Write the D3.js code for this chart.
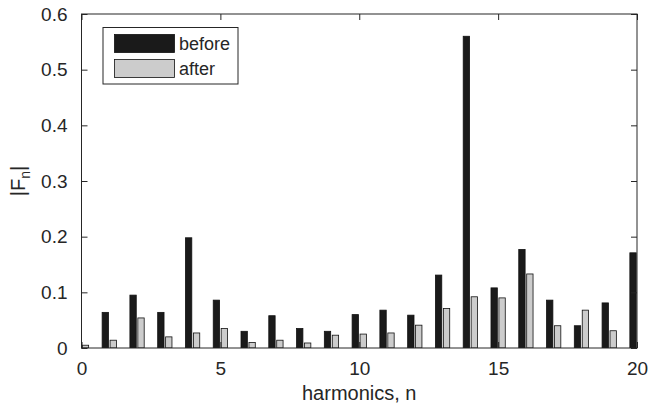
<!DOCTYPE html>
<html>
<head>
<meta charset="utf-8">
<script src="https://cdn.jsdelivr.net/npm/d3@7"></script>
<style>
  body { margin: 0; background: #fff; }
  svg { font-family: "Liberation Sans", Arial, sans-serif; }
</style>
</head>
<body>
<svg id="chart" width="649" height="409"></svg>
<script>
// harmonic numbers and |F_n| values
var harmonics = [0, 1, 2, 3, 4, 5, 6, 7, 8, 9, 10, 11, 12, 13, 14, 15, 16, 17, 18, 19, 20];
var before = [0.005, 0.064, 0.095, 0.064, 0.198, 0.086, 0.030, 0.058, 0.035, 0.030, 0.060, 0.068, 0.059, 0.131, 0.560, 0.108, 0.177, 0.086, 0.040, 0.081, 0.171];
var after  = [0.005, 0.014, 0.054, 0.020, 0.027, 0.035, 0.010, 0.014, 0.009, 0.023, 0.025, 0.027, 0.041, 0.071, 0.092, 0.090, 0.133, 0.040, 0.068, 0.031, 0.030];
var seriesNames = ["before", "after"];
var xTicks = [0, 5, 10, 15, 20];
var yTicks = [0, 0.1, 0.2, 0.3, 0.4, 0.5, 0.6];

var margin = {left: 81.5, top: 14, right: 12, bottom: 61};
var W = 649, H = 409;
var svg = d3.select('#chart');
var axisColor = '#262626';

var x = d3.scaleLinear().domain([0, 20]).range([margin.left, W - margin.right]);
var y = d3.scaleLinear().domain([0, 0.6]).range([H - margin.bottom, margin.top]);

// matlab grouped bar layout: 2 bars per group
var groupWidth = Math.min(0.8, 2 / 3.5);
var barW = groupWidth / 2 * 0.8;
var offsets = [-groupWidth / 4, groupWidth / 4];
var fills = ['#1a1a1a', '#cccccc'];
var series = [before, after];

svg.append('clipPath').attr('id', 'plotclip')
    .append('rect')
    .attr('x', x(0)).attr('y', y(0.6))
    .attr('width', x(20) - x(0)).attr('height', y(0) - y(0.6));

var plot = svg.append('g').attr('clip-path', 'url(#plotclip)');

series.forEach(function(vals, s){
    plot.selectAll('rect.s' + s)
        .data(harmonics)
        .enter().append('rect')
        .attr('class', 's' + s)
        .attr('x', function(d){ return x(d + offsets[s] - barW / 2); })
        .attr('width', function(d){ return x(barW) - x(0); })
        .attr('y', function(d, i){ return y(vals[i]); })
        .attr('height', function(d, i){ return y(0) - y(vals[i]); })
        .attr('fill', fills[s])
        .attr('stroke', '#111')
        .attr('stroke-width', 0.8);
});

// box
svg.append('rect')
    .attr('x', x(0)).attr('y', y(0.6))
    .attr('width', x(20) - x(0)).attr('height', y(0) - y(0.6))
    .attr('fill', 'none').attr('stroke', axisColor).attr('stroke-width', 1);

var tickLen = 6;
var yFmt = function(d){ return d === 0 ? '0' : d3.format('.1f')(d); };

// bottom / top ticks
var xAxisB = d3.axisBottom(x).tickValues(xTicks).tickSizeInner(-tickLen).tickSizeOuter(0).tickPadding(14).tickFormat(d3.format('d'));
var gxb = svg.append('g').attr('transform', 'translate(0,' + y(0) + ')').call(xAxisB);
var xAxisT = d3.axisTop(x).tickValues(xTicks).tickSizeInner(-tickLen).tickSizeOuter(0).tickFormat('');
var gxt = svg.append('g').attr('transform', 'translate(0,' + y(0.6) + ')').call(xAxisT);

var yAxisL = d3.axisLeft(y).tickValues(yTicks).tickSizeInner(-tickLen).tickSizeOuter(0).tickPadding(14).tickFormat(yFmt);
var gyl = svg.append('g').attr('transform', 'translate(' + x(0) + ',0)').call(yAxisL);
var yAxisR = d3.axisRight(y).tickValues(yTicks).tickSizeInner(-tickLen).tickSizeOuter(0).tickFormat('');
var gyr = svg.append('g').attr('transform', 'translate(' + x(20) + ',0)').call(yAxisR);

[gxb, gxt, gyl, gyr].forEach(function(g){
    g.select('.domain').remove();
    g.selectAll('.tick line').attr('stroke', axisColor);
    g.selectAll('.tick text').attr('fill', axisColor).style('font-size', '19px');
});

// axis labels
svg.append('text')
    .attr('x', (x(0) + x(20)) / 2).attr('y', 400)
    .attr('text-anchor', 'middle').attr('fill', axisColor)
    .style('font-size', '20px')
    .text('harmonics, n');

var yl = svg.append('text')
    .attr('transform', 'translate(25,' + ((y(0) + y(0.6)) / 2) + ') rotate(-90)')
    .attr('text-anchor', 'middle').attr('fill', axisColor)
    .style('font-size', '20px');
yl.append('tspan').text('|F');
yl.append('tspan').attr('dy', 5).style('font-size', '14px').text('n');
yl.append('tspan').attr('dy', -5).text('|');

// legend
var lg = svg.append('g').attr('transform', 'translate(103,27.5)');
lg.append('rect').attr('width', 135).attr('height', 56.5)
    .attr('fill', '#fff').attr('stroke', axisColor).attr('stroke-width', 1);
seriesNames.forEach(function(name, i){
    var yy = 7 + i * 25;
    lg.append('rect').attr('x', 11.5).attr('y', yy).attr('width', 60).attr('height', 18)
        .attr('fill', fills[i]).attr('stroke', '#111').attr('stroke-width', 0.8);
    lg.append('text').attr('x', 76).attr('y', yy + 15)
        .attr('fill', axisColor).style('font-size', '18px').text(name);
});
</script>
</body>
</html>
